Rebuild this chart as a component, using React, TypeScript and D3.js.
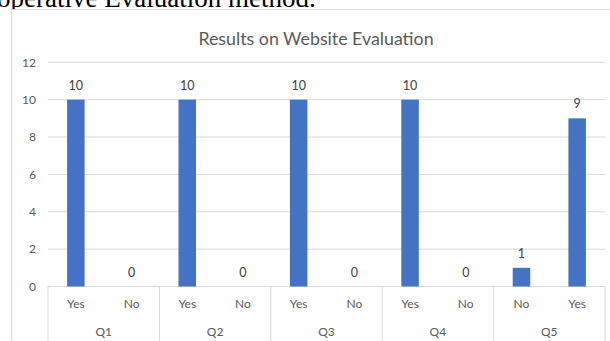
import React from "react";
import * as d3 from "d3";

// Survey results: per question, answer counts in display order
const questions = ["Q1", "Q2", "Q3", "Q4", "Q5"];
const answers = [
  ["Yes", "No"],
  ["Yes", "No"],
  ["Yes", "No"],
  ["Yes", "No"],
  ["No", "Yes"],
];
const counts = [
  [10, 0],
  [10, 0],
  [10, 0],
  [10, 0],
  [1, 9],
];
const yTicks = [0, 2, 4, 6, 8, 10, 12];

const W = 610;
const H = 341;
const FONT = "Lato, 'Open Sans', sans-serif";
const BAR = "#4472C4";
const GRID = "#d9d9d9";
const LABEL = "#595959";

export default function App() {
  const plotLeft = 48;
  const plotRight = 605;
  const y = d3.scaleLinear().domain([0, 12]).range([286.5, 62.3]);
  const xGroup = d3.scaleBand<string>().domain(questions).range([plotLeft, plotRight]).padding(0);
  const xInner = d3
    .scaleBand<number>()
    .domain([0, 1])
    .range([0, xGroup.bandwidth()])
    .paddingInner(0.686)
    .paddingOuter(0.343);
  const slot = xGroup.bandwidth() / 2;

  return (
    <div style={{ position: "absolute", left: 0, top: 0 }}>
      <svg width={W} height={H} style={{ display: "block", background: "#fff" }}>
        {/* running text of the page above the figure */}
        <text x={-3} y={7} fontFamily="'Liberation Serif', 'Times New Roman', serif" fontSize={27} fill="#000">
          operative Evaluation method.
        </text>
        {/* chart frame */}
        <rect x={11.5} y={9.5} width={620} height={360} fill="#fff" stroke={GRID} strokeWidth={1} />
        <text x={316} y={45} textAnchor="middle" fontFamily={FONT} fontSize={17.8} fill={LABEL}>
          Results on Website Evaluation
        </text>
        {/* gridlines and value axis labels */}
        {yTicks.map((t) => (
          <g key={t}>
            {t > 0 && (
              <line x1={plotLeft} x2={plotRight} y1={y(t)} y2={y(t)} stroke={GRID} strokeWidth={1} />
            )}
            <text x={36} y={y(t) + 4.2} textAnchor="end" fontFamily={FONT} fontSize={12} fill={LABEL}>
              {t}
            </text>
          </g>
        ))}
        {/* category axis baseline */}
        <line x1={plotLeft} x2={plotRight} y1={y(0)} y2={y(0)} stroke={GRID} strokeWidth={1} />
        {/* group separators spanning both label rows */}
        {[...questions.map((q) => xGroup(q)!), plotRight].map((xv, i) => (
          <line key={i} x1={xv} x2={xv} y1={y(0)} y2={H} stroke={GRID} strokeWidth={1} />
        ))}
        {questions.map((q, gi) => {
          const gx = xGroup(q)!;
          return (
            <g key={q}>
              {counts[gi].map((v, ai) => {
                const bx = gx + xInner(ai)!;
                const cx = bx + xInner.bandwidth() / 2;
                return (
                  <g key={ai}>
                    <rect x={bx} y={y(v)} width={xInner.bandwidth()} height={y(0) - y(v)} fill={BAR} />
                    <text x={cx} y={y(v) - 10} textAnchor="middle" fontFamily={FONT} fontSize={12.5} fill="#404040">
                      {v}
                    </text>
                    <text x={gx + slot * ai + slot / 2} y={308} textAnchor="middle" fontFamily={FONT} fontSize={12} fill={LABEL}>
                      {answers[gi][ai]}
                    </text>
                  </g>
                );
              })}
              <text x={gx + xGroup.bandwidth() / 2} y={336} textAnchor="middle" fontFamily={FONT} fontSize={12} fill={LABEL}>
                {q}
              </text>
            </g>
          );
        })}
      </svg>
    </div>
  );
}
